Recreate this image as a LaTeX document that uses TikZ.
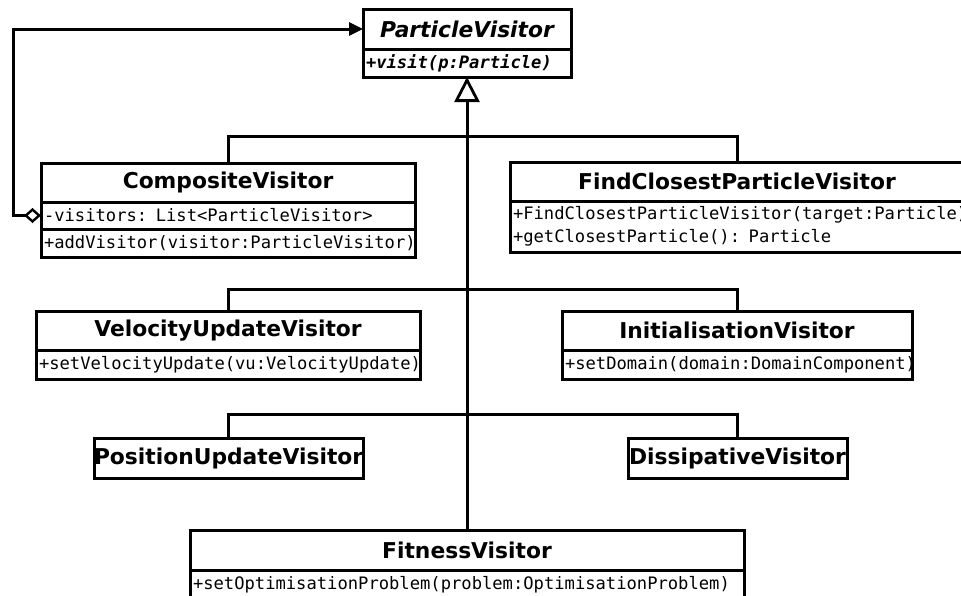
\documentclass[tikz,border=0pt]{standalone}
\usepackage{fontspec}
\setmainfont{DejaVu Sans}
\setmonofont{DejaVu Sans Mono}
\usetikzlibrary{arrows.meta}

\tikzset{
  every node/.style={inner sep=0pt, outer sep=0pt},
  hdr/.style={draw, line width=3pt, anchor=north west,
    font=\fontsize{21.8}{25}\selectfont\bfseries},
  mem/.style={draw, line width=3pt, anchor=north west, align=left,
    inner xsep=3pt, font=\ttfamily\fontsize{17.15}{23}\selectfont},
  link/.style={line width=3pt},
  gen/.style={-{Triangle[open, length=25pt, width=25pt, line width=2.8pt]}},
  agg/.style={{Diamond[open, length=17pt, width=15pt, line width=2.4pt]}-{Triangle[length=14pt, width=13pt]}},
}

\begin{document}
\begin{tikzpicture}[x=1pt, y=-1pt]
\useasboundingbox (0,0) rectangle (961,595);
\clip (0,0) rectangle (961,595);

% abstract visitor
\node[hdr, font=\fontsize{21.8}{25}\selectfont\bfseries\itshape,
      minimum width=208, minimum height=40] (pv) at (363,9) {ParticleVisitor};
\node[mem, font=\ttfamily\fontsize{17.15}{23}\selectfont\bfseries\itshape,
      text width=202, minimum height=28] (pvm) at (pv.south west) {+visit(p:Particle)};

% composite
\node[hdr, minimum width=374, minimum height=39] (comp) at (41,163) {CompositeVisitor};
\node[mem, text width=368, minimum height=27] (compa) at (comp.south west)
  {\mbox{-visitors: List<ParticleVisitor>}};
\node[mem, text width=368, minimum height=28] (compm) at (compa.south west)
  {+addVisitor(visitor:ParticleVisitor)};

% find closest
\node[hdr, minimum width=454, minimum height=39] (fcp) at (510,162) {FindClosestParticleVisitor};
\node[mem, text width=448, minimum height=51] (fcpm) at (fcp.south west)
  {+FindClosestParticleVisitor(target:Particle)\\\mbox{+getClosestParticle(): Particle}};

% velocity update
\node[hdr, minimum width=384, minimum height=39] (vel) at (36,311) {VelocityUpdateVisitor};
\node[mem, text width=378, minimum height=29] (velm) at (vel.south west)
  {+setVelocityUpdate(vu:VelocityUpdate)};

% initialisation
\node[hdr, minimum width=350, minimum height=39] (init) at (562,311) {InitialisationVisitor};
\node[mem, text width=344, minimum height=29] (initm) at (init.south west)
  {+setDomain(domain:DomainComponent)};

% position update and dissipative
\node[hdr, minimum width=267, minimum height=40] (pos) at (94,438) {PositionUpdateVisitor};
\node[hdr, minimum width=219, minimum height=40] (diss) at (628,438) {DissipativeVisitor};

% fitness
\node[hdr, minimum width=554, minimum height=40] (fit) at (190,530) {FitnessVisitor};
\node[mem, text width=548, minimum height=30] (fitm) at (fit.south west)
  {+setOptimisationProblem(problem:OptimisationProblem)};

% generalisation tree
\coordinate (b1) at (467,136);
\coordinate (b2) at (467,289);
\coordinate (b3) at (467,414);
\draw[link, gen] (fit.north) -- (pvm.south);
\draw[link] (comp.north) |- (b1) -| (fcp.north);
\draw[link] (vel.north) |- (b2) -| (init.north);
\draw[link] (pos.north) |- (b3) -| (diss.north);

% aggregation back to the visitor interface
\draw[link, agg] (compa.west) -- ++(-28,0) |- (pv.west);
\end{tikzpicture}
\end{document}
